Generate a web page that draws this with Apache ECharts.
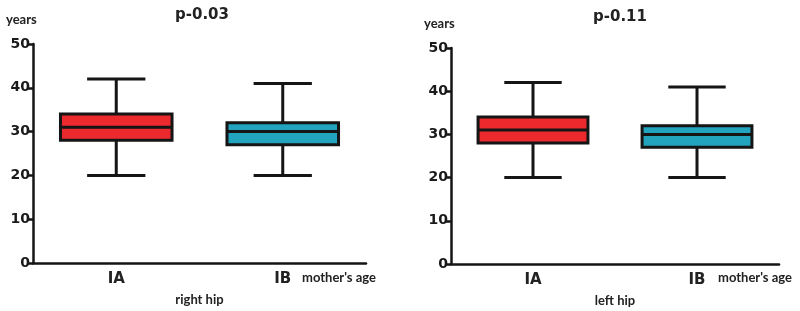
<!DOCTYPE html>
<html>
<head>
<meta charset="utf-8">
<script src="https://cdn.jsdelivr.net/npm/echarts@6/dist/echarts.min.js"></script>
<style>
  html, body { margin: 0; padding: 0; background: #fff; }
  #chart { width: 800px; height: 311px; }
</style>
</head>
<body>
<div id="chart"></div>
<script>
// groups on the x axis
const categories = ['IA', 'IB']
// [min, q1, median, q3, max] per group
const rightHip = [
  [20, 28, 31, 34, 42],
  [20, 27, 30, 32, 41],
]
const leftHip = [
  [20, 28, 31, 34, 42],
  [20, 27, 30, 32, 41],
]
const pValues = ['p-0.03', 'p-0.11']
const sideNames = ['right hip', 'left hip']
const yTicks = { min: 0, max: 50, interval: 10 }
const boxColors = ['#ec2a2e', '#22a3be']

const chart = echarts.init(document.getElementById('chart'))

const numFont = 'DejaVu Sans'
const txtFont = 'Lato'
const ink = '#151515'

function renderBox(params, api) {
  const cat = api.value(0)
  const lo = api.coord([cat, api.value(1)])
  const q1 = api.coord([cat, api.value(2)])
  const med = api.coord([cat, api.value(3)])
  const q3 = api.coord([cat, api.value(4)])
  const hi = api.coord([cat, api.value(5)])
  const band = api.size([1, 0])[0]
  const boxW = band * 0.67
  const capW = band * 0.35
  const x = lo[0]
  const line = { stroke: ink, lineWidth: 3 }
  return {
    type: 'group',
    children: [
      { type: 'line', shape: { x1: x, y1: hi[1], x2: x, y2: q3[1] }, style: line },
      { type: 'line', shape: { x1: x, y1: q1[1], x2: x, y2: lo[1] }, style: line },
      { type: 'line', shape: { x1: x - capW / 2, y1: hi[1], x2: x + capW / 2, y2: hi[1] }, style: line },
      { type: 'line', shape: { x1: x - capW / 2, y1: lo[1], x2: x + capW / 2, y2: lo[1] }, style: line },
      {
        type: 'rect',
        shape: { x: x - boxW / 2, y: q3[1], width: boxW, height: q1[1] - q3[1] },
        style: { fill: boxColors[cat], stroke: ink, lineWidth: 3 },
      },
      { type: 'line', shape: { x1: x - boxW / 2, y1: med[1], x2: x + boxW / 2, y2: med[1] }, style: line },
    ],
  }
}

function seriesData(stats) {
  return stats.map((s, i) => [i, ...s])
}

const grids = [
  { left: 33, right: 434, top: 44, bottom: 48, outerBoundsMode: 'none', containLabel: false },
  { left: 451, right: 21, top: 48, bottom: 47, outerBoundsMode: 'none', containLabel: false },
]

function xAxisFor(i) {
  return {
    type: 'category',
    gridIndex: i,
    data: categories,
    boundaryGap: true,
    axisLine: { lineStyle: { color: ink, width: 2.5 } },
    axisTick: { alignWithLabel: true, length: 5, lineStyle: { color: ink, width: 2.5 } },
    axisLabel: { color: '#222', fontFamily: numFont, fontWeight: 'bold', fontSize: 15, margin: 9 },
    name: sideNames[i],
    nameLocation: 'middle',
    nameGap: 30,
    nameTextStyle: { color: '#222', fontFamily: txtFont, fontWeight: 'bold', fontSize: 13 },
  }
}

function yAxisFor(i) {
  return {
    type: 'value',
    gridIndex: i,
    min: yTicks.min,
    max: yTicks.max,
    interval: yTicks.interval,
    splitLine: { show: false },
    axisLine: { show: true, lineStyle: { color: ink, width: 2.5 } },
    axisTick: { show: true, length: 5, lineStyle: { color: ink, width: 2.5 } },
    axisLabel: { color: '#1a1a1a', fontFamily: numFont, fontWeight: 'bold', fontSize: 14, margin: 3 },
  }
}

const labelStyle = { fill: '#222', fontFamily: txtFont, fontWeight: 'bold', fontSize: 13 }

chart.setOption({
  animation: false,
  title: [
    { text: pValues[0], left: 197, top: 3, textAlign: 'center',
      textStyle: { color: '#222', fontFamily: numFont, fontWeight: 'bold', fontSize: 15 } },
    { text: pValues[1], left: 615, top: 5, textAlign: 'center',
      textStyle: { color: '#222', fontFamily: numFont, fontWeight: 'bold', fontSize: 15 } },
  ],
  grid: grids,
  xAxis: [xAxisFor(0), xAxisFor(1)],
  yAxis: [yAxisFor(0), yAxisFor(1)],
  graphic: [
    { type: 'text', left: 6, top: 13, style: { text: 'years', ...labelStyle } },
    { type: 'text', left: 424, top: 17, style: { text: 'years', ...labelStyle } },
    { type: 'text', left: 302, top: 271, style: { text: "mother's age", ...labelStyle } },
    { type: 'text', left: 718, top: 271, style: { text: "mother's age", ...labelStyle } },
  ],
  series: [
    {
      type: 'custom',
      xAxisIndex: 0,
      yAxisIndex: 0,
      renderItem: renderBox,
      encode: { x: 0, y: [1, 2, 3, 4, 5] },
      data: seriesData(rightHip),
    },
    {
      type: 'custom',
      xAxisIndex: 1,
      yAxisIndex: 1,
      renderItem: renderBox,
      encode: { x: 0, y: [1, 2, 3, 4, 5] },
      data: seriesData(leftHip),
    },
  ],
})
</script>
</body>
</html>
